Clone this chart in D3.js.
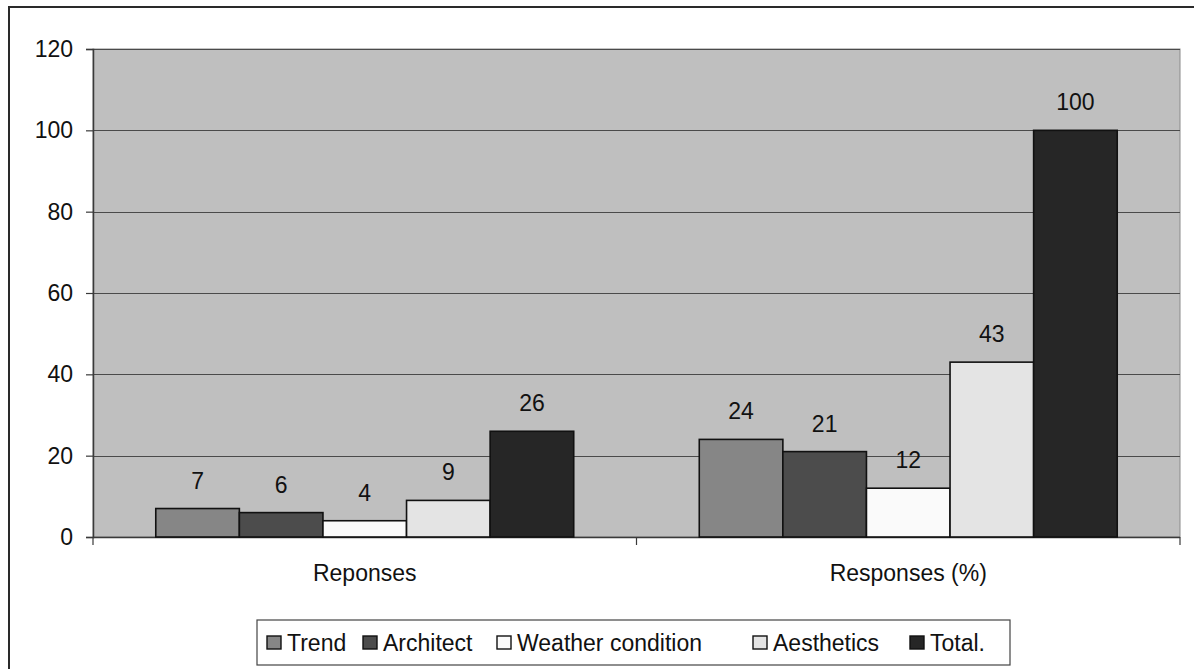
<!DOCTYPE html>
<html>
<head>
<meta charset="utf-8">
<script src="https://cdn.jsdelivr.net/npm/d3@7"></script>
<style>
  html, body { margin: 0; padding: 0; background: #ffffff; }
  svg { display: block; }
  text { font-family: "Liberation Sans", Arial, sans-serif; fill: #111; }
</style>
</head>
<body>
<svg id="chart" width="1194" height="669"></svg>
<script>
// Survey responses by factor
const categories = ["Reponses", "Responses (%)"];
const seriesNames = ["Trend", "Architect", "Weather condition", "Aesthetics", "Total."];
const trendValues = [7, 24];
const architectValues = [6, 21];
const weatherValues = [4, 12];
const aestheticsValues = [9, 43];
const totalValues = [26, 100];
const yTicks = [0, 20, 40, 60, 80, 100, 120];

const seriesValues = [trendValues, architectValues, weatherValues, aestheticsValues, totalValues];
const seriesColors = ["#868686", "#4c4c4c", "#fafafa", "#e4e4e4", "#262626"];

const svg = d3.select("#chart");
const W = 1194, H = 669;
const plot = { left: 93, right: 1180, top: 49, bottom: 537 };

// outer frame
svg.append("rect")
  .attr("x", 9).attr("y", 7)
  .attr("width", W + 20).attr("height", H + 20)
  .attr("fill", "#fff").attr("stroke", "#2a2a2a").attr("stroke-width", 2);

// plot background
svg.append("rect")
  .attr("x", plot.left).attr("y", plot.top)
  .attr("width", plot.right - plot.left).attr("height", plot.bottom - plot.top)
  .attr("fill", "#bfbfbf").attr("stroke", "#8a8a8a").attr("stroke-width", 1);

const x0 = d3.scaleBand()
  .domain(categories)
  .range([plot.left, plot.right])
  .paddingInner(0.231)
  .paddingOuter(0.1155);

const x1 = d3.scaleBand()
  .domain(seriesNames)
  .range([0, x0.bandwidth()]);

const y = d3.scaleLinear().domain([0, 120]).range([plot.bottom, plot.top]);

// gridlines
svg.append("g")
  .selectAll("line")
  .data(yTicks.filter(t => t > 0))
  .join("line")
  .attr("x1", plot.left).attr("x2", plot.right)
  .attr("y1", d => Math.round(y(d)) + 0.5).attr("y2", d => Math.round(y(d)) + 0.5)
  .attr("stroke", "#4a4a4a").attr("stroke-width", 1);

// y axis
const yAxis = svg.append("g")
  .attr("transform", `translate(${plot.left},0)`)
  .call(d3.axisLeft(y).tickValues(yTicks).tickSize(7).tickPadding(13).tickFormat(d3.format("d")));
yAxis.select(".domain").attr("stroke", "#3a3a3a").attr("stroke-width", 1.5);
yAxis.selectAll(".tick line").attr("stroke", "#3a3a3a").attr("stroke-width", 1.2);
yAxis.selectAll(".tick text")
  .style("font-family", '"Liberation Sans", Arial, sans-serif')
  .style("font-size", "23px").attr("fill", "#111");

// x axis
const xAxisG = svg.append("g")
  .attr("transform", `translate(0,${plot.bottom})`);
xAxisG.append("line")
  .attr("x1", plot.left).attr("x2", plot.right)
  .attr("y1", 0.5).attr("y2", 0.5)
  .attr("stroke", "#3a3a3a").attr("stroke-width", 1.5);
const xBoundaries = [plot.left, (plot.left + plot.right) / 2, plot.right];
xAxisG.selectAll("line.tick")
  .data(xBoundaries)
  .join("line")
  .attr("class", "tick")
  .attr("x1", d => d).attr("x2", d => d)
  .attr("y1", 0).attr("y2", 8)
  .attr("stroke", "#3a3a3a").attr("stroke-width", 1.2);
xAxisG.selectAll("text")
  .data(categories)
  .join("text")
  .attr("x", d => x0(d) + x0.bandwidth() / 2)
  .attr("y", 44)
  .attr("text-anchor", "middle")
  .style("font-size", "23px")
  .text(d => d);

// bars
const rows = [];
categories.forEach((c, ci) => {
  seriesNames.forEach((s, si) => {
    rows.push({ cat: c, series: s, value: seriesValues[si][ci], color: seriesColors[si] });
  });
});

const barG = svg.append("g");
barG.selectAll("rect")
  .data(rows)
  .join("rect")
  .attr("x", d => x0(d.cat) + x1(d.series))
  .attr("y", d => y(d.value))
  .attr("width", x1.bandwidth())
  .attr("height", d => y(0) - y(d.value))
  .attr("fill", d => d.color)
  .attr("stroke", "#111")
  .attr("stroke-width", 1.6);

// value labels
barG.selectAll("text")
  .data(rows)
  .join("text")
  .attr("x", d => x0(d.cat) + x1(d.series) + x1.bandwidth() / 2)
  .attr("y", d => y(d.value) - 20)
  .attr("text-anchor", "middle")
  .style("font-size", "23px")
  .text(d => d.value);

// legend
const legend = svg.append("g");
legend.append("rect")
  .attr("x", 257).attr("y", 620)
  .attr("width", 753).attr("height", 45)
  .attr("fill", "#fff").attr("stroke", "#444").attr("stroke-width", 1.2);

const legendX = [267, 363, 497, 753, 910];
const items = legend.selectAll("g.item")
  .data(seriesNames)
  .join("g")
  .attr("class", "item")
  .attr("transform", (d, i) => `translate(${legendX[i]},0)`);
items.append("rect")
  .attr("x", 0).attr("y", 636)
  .attr("width", 14).attr("height", 13)
  .attr("fill", (d, i) => seriesColors[i])
  .attr("stroke", "#111").attr("stroke-width", 1.4);
items.append("text")
  .attr("x", 20).attr("y", 651)
  .style("font-size", "23px")
  .text(d => d);
</script>
</body>
</html>
